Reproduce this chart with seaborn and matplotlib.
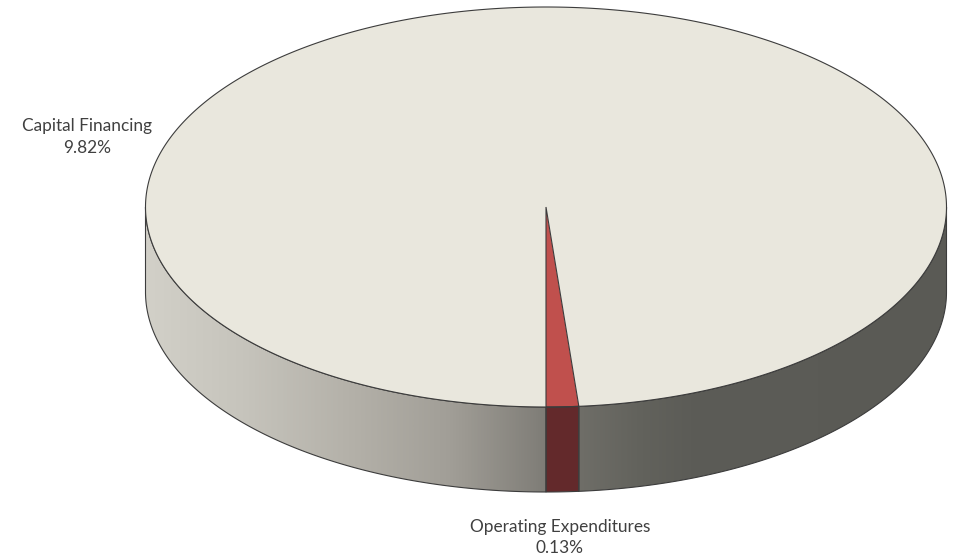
import numpy as np
import matplotlib
matplotlib.use("Agg")
import matplotlib.pyplot as plt
from matplotlib.patches import Polygon
from matplotlib.colors import LinearSegmentedColormap
import seaborn as sns

# Budget shares shown in the 3-D pie
categories = ["Operating Expenditures", "Capital Financing"]
shares = [0.13, 9.82]
value_labels = ["0.13%", "9.82%"]
top_colors = ["#c0504d", "#e9e7dd"]
side_colors = ["#63292b", None]   # None -> shaded grey gradient

sns.set_theme(style="white")
plt.rcParams["font.family"] = ["Lato", "DejaVu Sans"]

fig = plt.figure(figsize=(9.57, 5.58), dpi=100)
ax = fig.add_axes([0, 0, 1, 1])
ax.set_xlim(0, 957)
ax.set_ylim(558, 0)
ax.axis("off")

# Pie layout (in figure pixels)
cx, cy, rx, ry, depth = 546.0, 207.0, 400.5, 200.0, 85.0
start = 270.0
edge = "#3c3c3c"
lw = 0.8


def rim(a0, a1, n=200, dy=0.0):
    t = np.radians(np.linspace(a0, a1, n))
    return np.column_stack([cx + rx * np.cos(t), cy - ry * np.sin(t) + dy])


total = float(sum(shares))
angles = [start]
for s in shares:
    angles.append(angles[-1] + 360.0 * s / total)

side_cmap = LinearSegmentedColormap.from_list(
    "side",
    [(0.00, "#d2d0c8"), (0.12, "#c6c4bc"), (0.26, "#b3b0a8"),
     (0.38, "#a19e97"), (0.49, "#817f79"), (0.54, "#6f6e68"),
     (0.62, "#62625c"), (0.68, "#5c5c57"), (1.00, "#5a5a55")])
grad = np.linspace(0, 1, 512)[None, :]

# Front side walls: the part of each slice lying in the 180..360 degree band
for i, (a0, a1) in enumerate(zip(angles[:-1], angles[1:])):
    for k in (-1, 0, 1):
        lo = max(a0, 180 + 360 * k)
        hi = min(a1, 360 + 360 * k)
        if hi <= lo:
            continue
        top = rim(lo, hi)
        bot = rim(lo, hi, dy=depth)[::-1]
        verts = np.vstack([top, bot])
        if side_colors[i] is None:
            poly = Polygon(verts, closed=True, facecolor="none",
                           edgecolor="none")
            ax.add_patch(poly)
            im = ax.imshow(grad, cmap=side_cmap, aspect="auto",
                           extent=(cx - rx, cx + rx, cy + ry + depth, cy - ry),
                           interpolation="bilinear", zorder=1)
            im.set_clip_path(poly)
            ax.add_patch(Polygon(verts, closed=True, facecolor="none",
                                 edgecolor=edge, linewidth=lw, zorder=2))
        else:
            ax.add_patch(Polygon(verts, closed=True, facecolor=side_colors[i],
                                 edgecolor=edge, linewidth=lw, zorder=2))

# Top face wedges
for i, (a0, a1) in enumerate(zip(angles[:-1], angles[1:])):
    pts = np.vstack([[cx, cy], rim(a0, a1, n=400)])
    ax.add_patch(Polygon(pts, closed=True, facecolor=top_colors[i],
                         edgecolor="none", zorder=3))
    if i == 0:
        ax.add_patch(Polygon(pts, closed=True, facecolor="none",
                             edgecolor=edge, linewidth=lw, zorder=4))
ax.add_patch(Polygon(rim(0, 360, n=720), closed=True, facecolor="none",
                     edgecolor=edge, linewidth=lw, zorder=4))

# Category labels
txt = dict(fontsize=12.4, color="#404040", ha="center", va="center",
           linespacing=1.4)
ax.text(87, 137, f"{categories[1]}\n{value_labels[1]}", **txt)
ax.text(560, 537.5, f"{categories[0]}\n{value_labels[0]}", **txt)

fig.savefig("out.png", dpi=100)
